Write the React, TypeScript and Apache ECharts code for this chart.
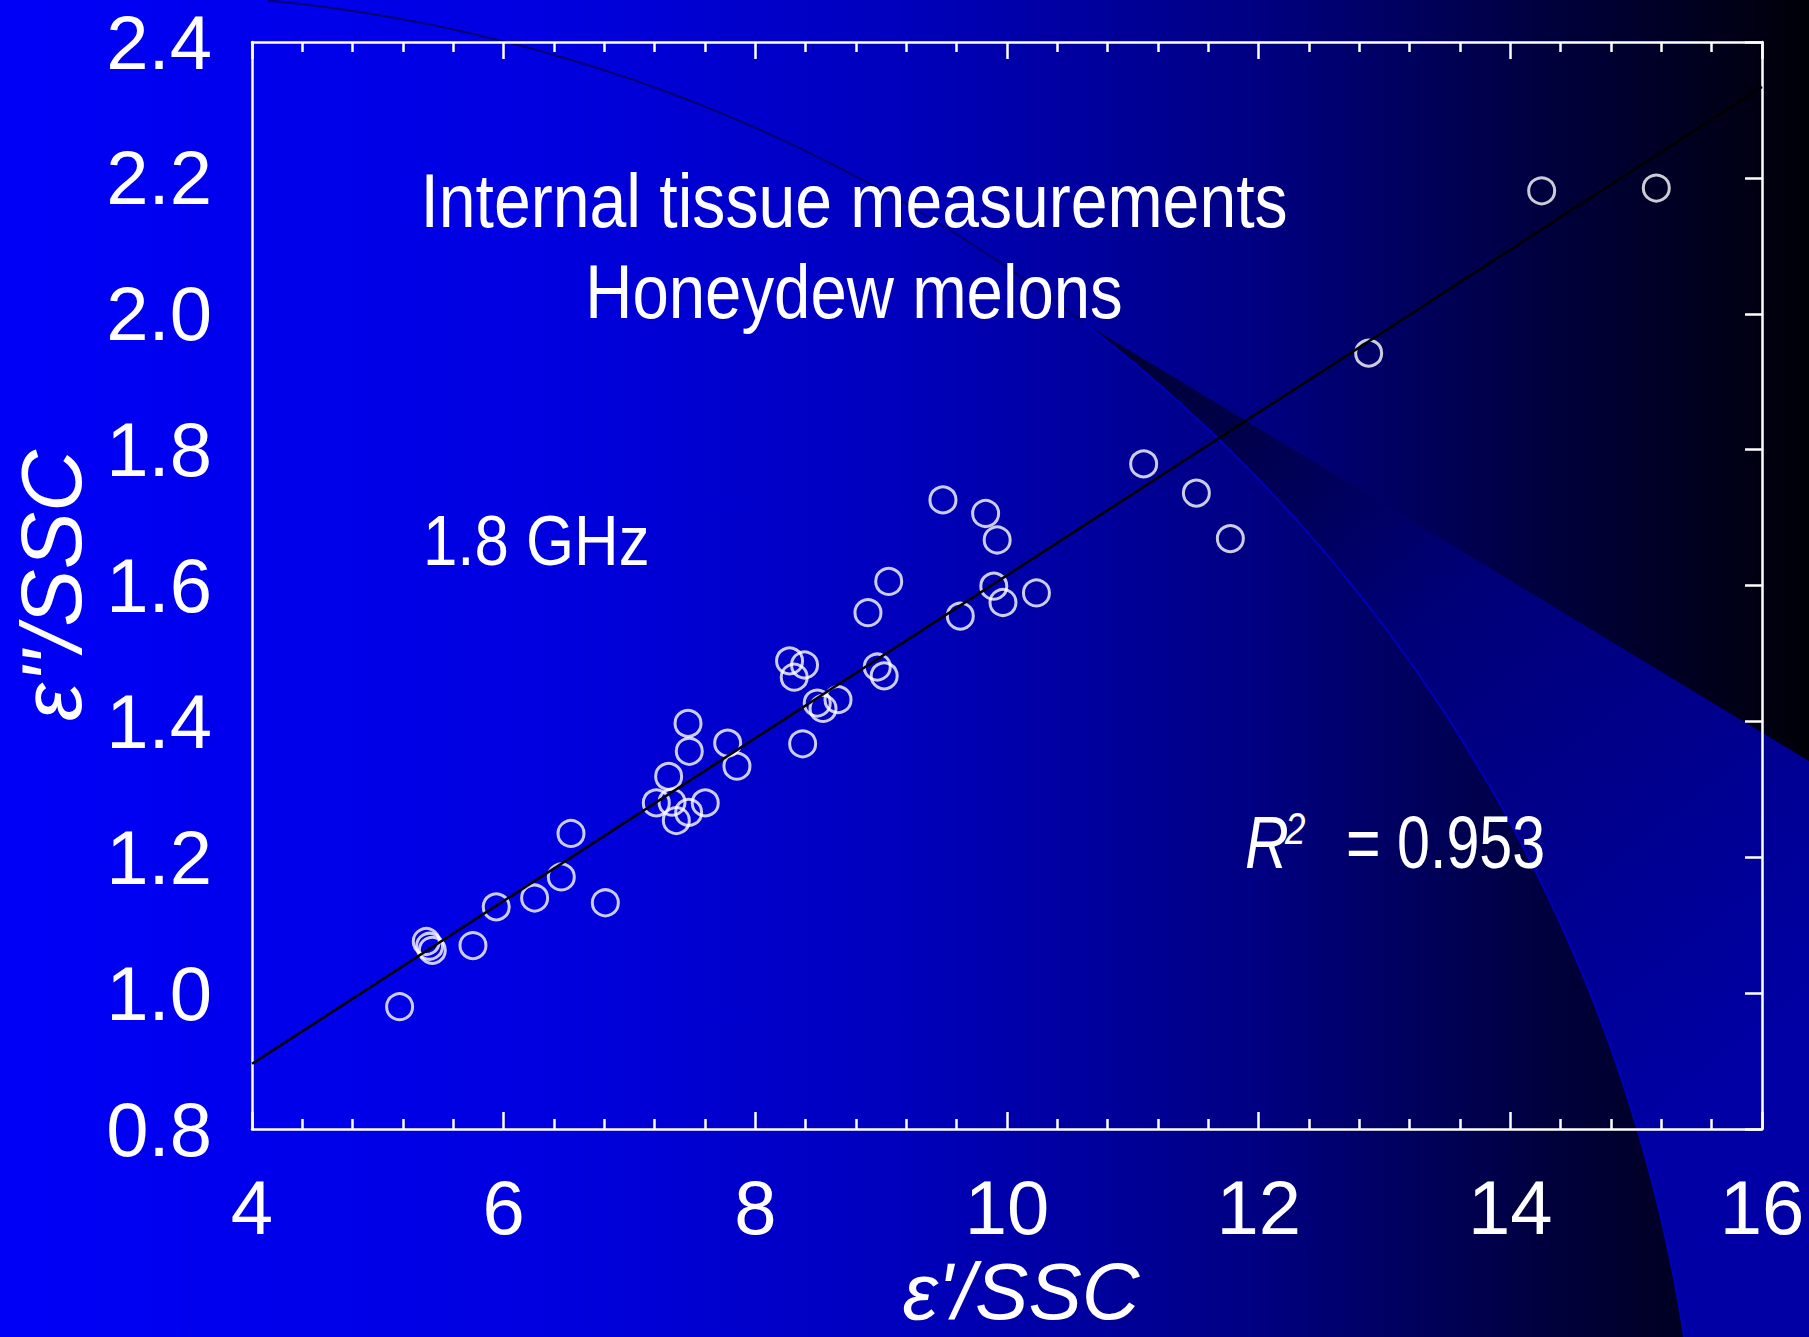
import React, { useEffect, useRef } from "react";
import * as echarts from "echarts";

// ε'/SSC values (x) and ε''/SSC values (y)
const xValues = [
  5.173, 5.385, 5.411, 5.433, 5.756, 5.941, 6.246, 6.458, 6.535, 6.808,
  7.213, 7.311, 7.338, 7.372, 7.47, 7.465, 7.475, 7.602, 7.78, 7.854,
  8.272, 8.309, 8.391, 8.376, 8.492, 8.538, 8.657, 8.895, 8.969, 9.024,
  9.06, 9.491, 9.629, 9.83, 9.922, 9.895, 9.968, 10.234, 11.086, 11.505,
  11.775, 12.874, 14.249, 15.16,
];
const yValues = [
  0.98, 1.076, 1.069, 1.063, 1.07, 1.127, 1.14, 1.171, 1.235, 1.133,
  1.28, 1.319, 1.281, 1.254, 1.266, 1.397, 1.356, 1.28, 1.368, 1.334,
  1.489, 1.465, 1.483, 1.367, 1.427, 1.419, 1.432, 1.56, 1.48, 1.467,
  1.606, 1.726, 1.555, 1.706, 1.667, 1.599, 1.575, 1.589, 1.779, 1.736,
  1.669, 1.942, 2.181, 2.185,
];

// regression line end points
const fitX = [4, 16];
const fitY = [0.896, 2.334];

const xTicks = [4, 6, 8, 10, 12, 14, 16];
const yTicks = [0.8, 1.0, 1.2, 1.4, 1.6, 1.8, 2.0, 2.2, 2.4];

const titleLines = ["Internal tissue measurements", "Honeydew melons"];
const freqLabel = "1.8 GHz";
const r2Value = "0.953";

const FONT = "'Liberation Sans', Arial, Helvetica, sans-serif";
const W = 1809;
const H = 1337;

export default function App() {
  const ref = useRef<HTMLDivElement | null>(null);

  useEffect(() => {
    if (!ref.current) return;
    document.body.style.margin = "0";
    document.body.style.overflow = "hidden";
    const chart = echarts.init(ref.current, undefined, { renderer: "svg", width: W, height: H });

    // decorative circle arc (background template)
    const cx = 115, cy = 1581, R = 1588;
    const arcPts = (a0: number, a1: number, n: number) => {
      const pts: number[][] = [];
      for (let i = 0; i <= n; i++) {
        const a = ((a0 + ((a1 - a0) * i) / n) * Math.PI) / 180;
        pts.push([cx + R * Math.cos(a), cy + R * Math.sin(a)]);
      }
      return pts;
    };
    const apexAng = (Math.atan2(323 - cy, 1084 - cx) * 180) / Math.PI;
    const botAng = (Math.atan2(1337 - cy, 1684 - cx) * 180) / Math.PI;
    const topAng = (Math.atan2(0 - cy, 268 - cx) * 180) / Math.PI;
    const lowerArc = arcPts(apexAng, botAng + 1, 60);
    const upperArc = arcPts(topAng, apexAng, 60);
    const regionPts = [...lowerArc, [1809, 1340], [1809, 761]];

    const seriesData = xValues.map((x, i) => [x, yValues[i]]);
    const fitData = fitX.map((x, i) => [x, fitY[i]]);

    const axisLineStyle = { color: "#ffffff", width: 2.5 };

    chart.setOption({
      animation: false,
      backgroundColor: new echarts.graphic.LinearGradient(0, 0, 1, 0, [
        { offset: 0, color: "#0000f8" },
        { offset: 0.3, color: "#0000e0" },
        { offset: 0.5, color: "#0000bc" },
        { offset: 0.7, color: "#000080" },
        { offset: 0.85, color: "#000040" },
        { offset: 1, color: "#000008" },
      ]),
      grid: {
        left: 252,
        top: 42,
        right: 47,
        bottom: 208,
        containLabel: false,
        outerBoundsMode: "none",
      },
      xAxis: [
        {
          type: "value",
          position: "bottom",
          min: 4,
          max: 16,
          interval: 2,
          z: 5,
          axisLine: { show: true, lineStyle: axisLineStyle },
          axisTick: { show: true, inside: true, length: 17, lineStyle: { color: "#fff", width: 2.5 } },
          minorTick: { show: true, splitNumber: 5, length: 10, lineStyle: { color: "#fff", width: 2.5 } },
          splitLine: { show: false },
          axisLabel: {
            color: "#ffffff",
            fontSize: 76,
            fontFamily: FONT,
            margin: 40,
            formatter: (v: number) => (xTicks.includes(v) ? String(v) : ""),
          },
          name: "ε'/SSC",
          nameLocation: "middle",
          nameGap: 122,
          nameTextStyle: {
            color: "#ffffff",
            fontSize: 80,
            lineHeight: 80,
            fontStyle: "italic",
            fontFamily: FONT,
            padding: [0, 0, 0, 28],
          },
        },
        {
          type: "value",
          position: "top",
          min: 4,
          max: 16,
          interval: 2,
          z: 5,
          axisLine: { show: true, lineStyle: axisLineStyle },
          axisTick: { show: true, inside: true, length: 17, lineStyle: { color: "#fff", width: 2.5 } },
          minorTick: { show: true, splitNumber: 5, length: 10, lineStyle: { color: "#fff", width: 2.5 } },
          splitLine: { show: false },
          axisLabel: { show: false },
        },
      ],
      yAxis: [
        {
          type: "value",
          position: "left",
          min: 0.8,
          max: 2.4,
          interval: 0.2,
          z: 5,
          axisLine: { show: true, lineStyle: axisLineStyle },
          axisTick: { show: false },
          splitLine: { show: false },
          axisLabel: {
            color: "#ffffff",
            fontSize: 76,
            fontFamily: FONT,
            margin: 40,
            formatter: (v: number) => {
              const t = yTicks.find((k) => Math.abs(k - v) < 1e-6);
              return t === undefined ? "" : t.toFixed(1);
            },
          },
          name: "ε''/SSC",
          nameLocation: "middle",
          nameGap: 158,
          nameRotate: 90,
          nameTextStyle: {
            color: "#ffffff",
            fontSize: 86,
            fontStyle: "italic",
            fontFamily: FONT,
            padding: [0, 0, 0, 0],
          },
        },
        {
          type: "value",
          position: "right",
          min: 0.8,
          max: 2.4,
          interval: 0.2,
          z: 5,
          axisLine: { show: true, lineStyle: axisLineStyle },
          axisTick: { show: true, inside: true, length: 17, lineStyle: { color: "#fff", width: 2.5 } },
          splitLine: { show: false },
          axisLabel: { show: false },
        },
      ],
      graphic: [
        {
          type: "polygon",
          z: -10,
          silent: true,
          shape: { points: regionPts },
          style: {
            fill: new echarts.graphic.LinearGradient(
              1084, 323, 1700, 1100,
              [
                { offset: 0, color: "#00002c" },
                { offset: 0.45, color: "#000078" },
                { offset: 1, color: "#0000a4" },
              ],
              true
            ),
          },
        },
        {
          type: "polyline",
          z: -9,
          silent: true,
          shape: { points: upperArc },
          style: { stroke: "#000070", lineWidth: 2, fill: "none" },
        },
        {
          type: "polyline",
          z: -9,
          silent: true,
          shape: { points: lowerArc },
          style: { stroke: "#0000b8", lineWidth: 2, fill: "none" },
        },
        {
          type: "text",
          z: 100,
          x: 854,
          y: 201,
          scaleX: 0.87,
          style: {
            text: titleLines[0],
            fill: "#ffffff",
            fontSize: 76,
            fontFamily: FONT,
            align: "center",
            verticalAlign: "middle",
            textAlign: "center",
            textVerticalAlign: "middle",
          },
        },
        {
          type: "text",
          z: 100,
          x: 854,
          y: 292,
          scaleX: 0.86,
          style: {
            text: titleLines[1],
            fill: "#ffffff",
            fontSize: 76,
            fontFamily: FONT,
            align: "center",
            verticalAlign: "middle",
            textAlign: "center",
            textVerticalAlign: "middle",
          },
        },
        {
          type: "text",
          z: 100,
          x: 423,
          y: 540,
          scaleX: 0.87,
          style: {
            text: freqLabel,
            fill: "#ffffff",
            fontSize: 71,
            fontFamily: FONT,
            align: "left",
            verticalAlign: "middle",
            textAlign: "left",
            textVerticalAlign: "middle",
          },
        },
        {
          type: "text",
          z: 100,
          x: 1245,
          y: 842,
          scaleX: 0.82,
          style: {
            text: "R",
            fill: "#ffffff",
            fontSize: 74,
            fontStyle: "italic",
            fontFamily: FONT,
            align: "left",
            verticalAlign: "middle",
            textAlign: "left",
            textVerticalAlign: "middle",
          },
        },
        {
          type: "text",
          z: 100,
          x: 1285,
          y: 829,
          scaleX: 0.82,
          style: {
            text: "2",
            fill: "#ffffff",
            fontSize: 45,
            fontStyle: "italic",
            fontFamily: FONT,
            align: "left",
            verticalAlign: "middle",
            textAlign: "left",
            textVerticalAlign: "middle",
          },
        },
        {
          type: "text",
          z: 100,
          x: 1346,
          y: 842,
          scaleX: 0.8,
          style: {
            text: "= " + r2Value,
            fill: "#ffffff",
            fontSize: 74,
            fontFamily: FONT,
            align: "left",
            verticalAlign: "middle",
            textAlign: "left",
            textVerticalAlign: "middle",
          },
        },
      ],
      series: [
        {
          type: "scatter",
          xAxisIndex: 0,
          yAxisIndex: 0,
          z: 10,
          symbol: "circle",
          symbolSize: 26,
          itemStyle: { color: "rgba(0,0,0,0)", borderColor: "#ffffff", borderWidth: 3 },
          data: seriesData,
        },
        {
          type: "line",
          xAxisIndex: 0,
          yAxisIndex: 0,
          z: 11,
          showSymbol: false,
          symbol: "none",
          lineStyle: { color: "#000000", width: 2.5 },
          data: fitData,
        },
      ],
    });

    return () => {
      chart.dispose();
    };
  }, []);

  return (
    <div
      ref={ref}
      style={{ position: "fixed", left: 0, top: 0, width: W, height: H }}
    />
  );
}
